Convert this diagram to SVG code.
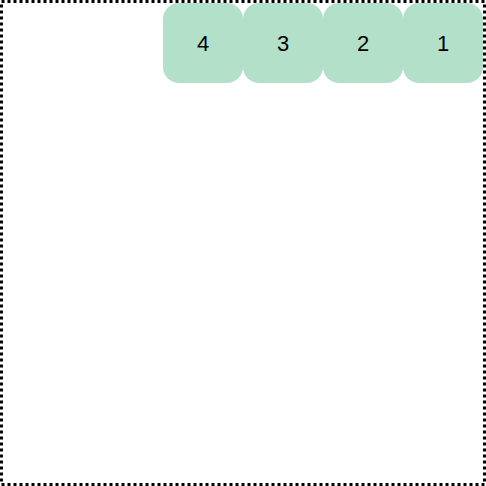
<svg xmlns="http://www.w3.org/2000/svg" width="486" height="486" viewBox="0 0 486 486">
<style>
.box{fill:#b3e0c9;}
.lbl{font-family:"Liberation Sans",Arial,sans-serif;font-size:22px;fill:#000;text-anchor:middle;dominant-baseline:central;}
</style>
<rect x="0" y="0" width="486" height="486" fill="#fff"/>
<rect x="1.5" y="1.5" width="483" height="483" fill="none" stroke="#000" stroke-width="3" stroke-dasharray="3 3"/>
<g id="connectors"></g>
<g id="node4"><rect class="box" x="163" y="3" width="80" height="80" rx="16"/><text class="lbl" x="203" y="43">4</text></g>
<g id="node3"><rect class="box" x="243" y="3" width="80" height="80" rx="16"/><text class="lbl" x="283" y="43">3</text></g>
<g id="node2"><rect class="box" x="323" y="3" width="80" height="80" rx="16"/><text class="lbl" x="363" y="43">2</text></g>
<g id="node1"><rect class="box" x="403" y="3" width="80" height="80" rx="16"/><text class="lbl" x="443" y="43">1</text></g>
</svg>
